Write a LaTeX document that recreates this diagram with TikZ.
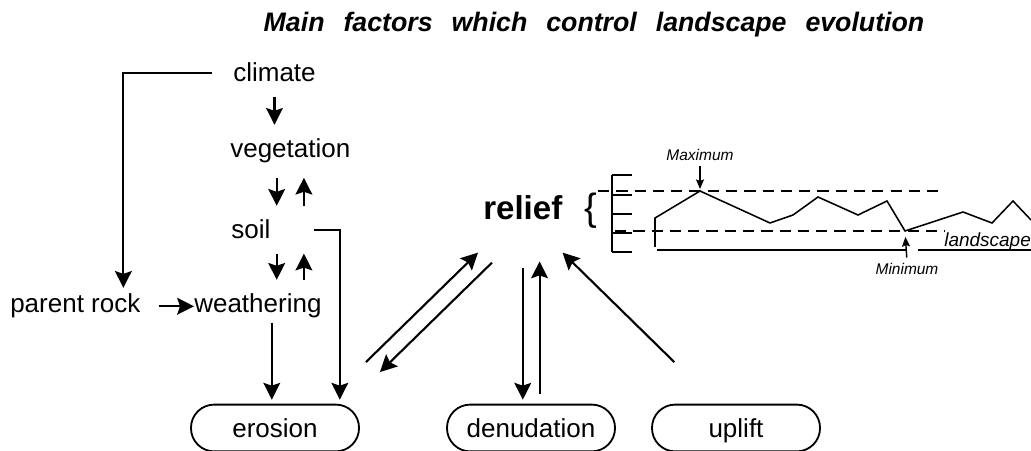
\documentclass[tikz,border=0pt]{standalone}
\usepackage{fontspec}
\setmainfont{Liberation Sans}
\usetikzlibrary{arrows.meta,positioning}
\newcommand{\widespace}{\spaceskip 13.5pt\relax}

\begin{document}
\begin{tikzpicture}[x=0.025cm,y=-0.025cm,font=\fontsize{18.5}{22}\selectfont,
    lbl/.style={inner sep=0pt,anchor=base west},
    pill/.style={draw,line width=1.3pt,rounded corners=0.58cm,minimum width=4.2cm,minimum height=1.17cm,inner sep=0pt,text height=15pt,text depth=2pt},
    arr/.style={-{Stealth[length=4.2mm,width=4.2mm,inset=0.7mm]},line width=1.5pt},
    chain/.style={arr,shorten <=10pt,shorten >=10pt},
    tiny/.style={font=\fontsize{11}{12}\selectfont\itshape,inner sep=1pt}]
  \useasboundingbox (0,0) rectangle (1031,451);

  % title
  \node[anchor=base,font=\fontsize{19}{22}\selectfont\bfseries\itshape] (title) at (594,32) {\widespace Main factors which control landscape evolution};

  % factors
  \node[lbl] (climate) at (233,82) {climate};
  \node[lbl] (veg) at (230,158) {vegetation};
  \node[lbl] (soil) at (231,239) {soil};
  \node[lbl] (weath) at (194,313) {weathering};
  \node[lbl] (parent) at (10,313) {parent rock};
  \node[lbl,font=\fontsize{23.5}{26}\selectfont\bfseries] (relief) at (483,220) {relief};

  % processes
  \node[pill] (erosion) at (275,428) {erosion};
  \node[pill] (denud) at (531,428) {denudation};
  \node[pill] (uplift) at (736,428) {uplift};

  \draw[chain] (climate.south) -- (climate.south |- veg.north);
  \draw[chain] ([xshift=-0.34cm]veg.south) -- ([xshift=-0.34cm]veg.south |- soil.north);
  \draw[chain] ([xshift=0.34cm]veg.south |- soil.north) -- ([xshift=0.34cm]veg.south);
  \draw[chain] ([xshift=-0.34cm]veg.south |- soil.south) -- ([xshift=-0.34cm]veg.south |- weath.north);
  \draw[chain] ([xshift=0.34cm]veg.south |- weath.north) -- ([xshift=0.34cm]veg.south |- soil.south);
  \draw[arr,shorten <=0.53cm,shorten >=0.15cm] (climate.west) -| ([xshift=1.2cm]parent.north);
  \draw[arr,shorten <=0.45cm] (parent.east) -- (weath.west);
  \draw[arr,shorten <=0.1cm,shorten >=0.1cm] ([xshift=-0.08cm]erosion.north |- weath.south) -- ([xshift=-0.08cm]erosion.north);
  \draw[arr,shorten >=0.1cm] ([xshift=1.08cm]soil.east) -| ([xshift=1.62cm]erosion.north);

  % relief links
  \draw[arr] ([xshift=0.15cm,yshift=1.04cm]erosion.north east) -- ([xshift=-0.125cm,yshift=-0.8cm]relief.south west);
  \draw[arr] ([xshift=0.225cm,yshift=-1.05cm]relief.south west) -- ([xshift=0.5cm,yshift=0.79cm]erosion.north east);
  \draw[arr,shorten >=0.1cm] ([yshift=-1.18cm]relief.south) -- (relief.south |- denud.north);
  \draw[arr,shorten <=0.25cm] ([xshift=0.42cm]relief.south |- denud.north) -- ([xshift=0.42cm,yshift=-1.02cm]relief.south);
  \draw[arr] ([xshift=0.58cm,yshift=1.04cm]uplift.north west) -- ([yshift=-0.8cm]relief.south east);

  % relief sketch
  \node[font=\fontsize{27}{30}\selectfont] (brace) at (591,211) {\{};
  \draw[line width=1.3pt] (612,175) -- (612,252);
  \foreach \yy in {175,195,214,233,252}
    \draw[line width=1.3pt] (612,\yy) -- (632,\yy);
  \draw[line width=1.2pt,dash pattern=on 8pt off 5pt] (598,191) -- (945,191);
  \draw[line width=1.2pt,dash pattern=on 8pt off 5pt] (615,231) -- (945,231);
  \coordinate (peak) at (700,191);
  \coordinate (trough) at (905,231);
  \draw[line width=1.1pt] (655,247) -- (655,218) -- (peak) -- (770,223) -- (793,215) -- (818,197)
    -- (858,215) -- (887,201) -- (trough) -- (963,212) -- (992,223) -- (1013,201) -- (1031,220);
  \draw[line width=1.1pt] (657,250) -- (907,250);
  \draw[line width=1.1pt] (918,250) -- (1031,250);
  \node[lbl,font=\fontsize{13.5}{15}\selectfont\itshape] (land) at (944,247) {landscape};
  \node[tiny] (maxlbl) at (700,155) {Maximum};
  \node[tiny] (minlbl) at (907,269) {Minimum};
  \draw[-{Stealth[length=2.4mm,width=2mm,inset=0.4mm]},line width=1pt,shorten <=0.1cm,shorten >=0.05cm] (maxlbl.south) -- (peak);
  \draw[-{Stealth[length=2.4mm,width=2mm,inset=0.4mm]},line width=1pt,shorten <=0.1cm,shorten >=0.15cm] (minlbl.north) -- (trough);
\end{tikzpicture}
\end{document}
